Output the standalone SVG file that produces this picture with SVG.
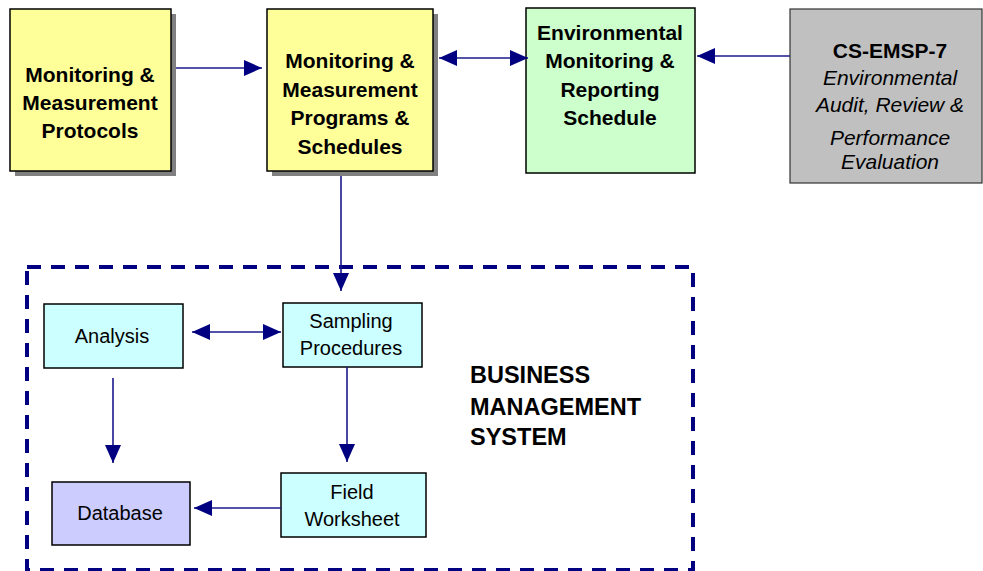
<svg xmlns="http://www.w3.org/2000/svg" width="983" height="571" viewBox="0 0 983 571">
  <style>
    .box { stroke: #000; stroke-width: 1.5; }
    .shadow { fill: #808080; }
    .yellow { fill: #ffff99; }
    .green { fill: #ccffcc; }
    .grey { fill: #c0c0c0; stroke: #333; stroke-width: 1.2; }
    .cyan { fill: #ccffff; }
    .lilac { fill: #ccccff; }
    .t { font-family: "Liberation Sans", Arial, sans-serif; fill: #000; text-anchor: middle; }
    .b21 { font-size: 21px; font-weight: bold; }
    .i21 { font-size: 21px; font-style: italic; }
    .r20 { font-size: 20px; }
    .bms { font-family: "Liberation Sans", Arial, sans-serif; font-size: 23.5px; font-weight: bold; fill: #000; }
    .conn { stroke: #1a1a8c; stroke-width: 1.6; fill: none; }
    .frame { fill: none; stroke: #000080; stroke-width: 4; stroke-dasharray: 14 10; }
  </style>
  <defs>
    <marker id="head" viewBox="0 0 18 16" refX="18" refY="8" markerWidth="18" markerHeight="16" markerUnits="userSpaceOnUse" orient="auto-start-reverse">
      <path d="M0,0 L18,8 L0,16 Z" fill="#000080"/>
    </marker>
    <clipPath id="clip1">
      <rect x="11" y="9" width="160" height="145"/>
    </clipPath>
  </defs>

  <!-- business management system frame -->
  <rect class="frame" x="27" y="267" width="666" height="303"/>

  <g id="protocols">
    <rect class="shadow" x="15" y="14" width="161" height="162"/>
    <rect class="box yellow" x="10" y="9" width="161" height="162"/>
    <g clip-path="url(#clip1)">
      <text class="t b21" x="90" y="82">Monitoring &amp;</text>
      <text class="t b21" x="90" y="110">Measurement</text>
      <text class="t b21" x="90" y="138">Protocols</text>
    </g>
  </g>

  <g id="programs">
    <rect class="shadow" x="272" y="14" width="166" height="162"/>
    <rect class="box yellow" x="267" y="9" width="166" height="162"/>
    <text class="t b21" x="350" y="68">Monitoring &amp;</text>
    <text class="t b21" x="350" y="97">Measurement</text>
    <text class="t b21" x="350" y="125">Programs &amp;</text>
    <text class="t b21" x="350" y="154">Schedules</text>
  </g>

  <g id="reporting">
    <rect class="box green" x="526" y="8" width="169" height="165"/>
    <text class="t b21" x="610" y="40">Environmental</text>
    <text class="t b21" x="610" y="68">Monitoring &amp;</text>
    <text class="t b21" x="610" y="97">Reporting</text>
    <text class="t b21" x="610" y="125">Schedule</text>
  </g>

  <g id="audit">
    <rect class="grey" x="790" y="9" width="192" height="174"/>
    <text class="t b21" x="890" y="58">CS-EMSP-7</text>
    <text class="t i21" x="890" y="85">Environmental</text>
    <text class="t i21" x="890" y="112">Audit, Review &amp;</text>
    <text class="t i21" x="890" y="145">Performance</text>
    <text class="t i21" x="890" y="169">Evaluation</text>
  </g>

  <g id="analysis">
    <rect class="box cyan" x="44" y="304" width="139" height="64"/>
    <text class="t r20" x="112" y="343">Analysis</text>
  </g>

  <g id="sampling">
    <rect class="box cyan" x="283" y="303" width="139" height="64"/>
    <text class="t r20" x="351" y="328">Sampling</text>
    <text class="t r20" x="351" y="355">Procedures</text>
  </g>

  <g id="worksheet">
    <rect class="box cyan" x="281" y="473" width="145" height="64"/>
    <text class="t r20" x="352" y="499">Field</text>
    <text class="t r20" x="352" y="526">Worksheet</text>
  </g>

  <g id="database">
    <rect class="box lilac" x="52" y="482" width="138" height="63"/>
    <text class="t r20" x="120" y="520">Database</text>
  </g>

  <text class="bms" x="470" y="383">BUSINESS</text>
  <text class="bms" x="470" y="415">MANAGEMENT</text>
  <text class="bms" x="470" y="445">SYSTEM</text>

  <g id="connectors">
    <line class="conn" x1="176" y1="68" x2="262" y2="68" marker-end="url(#head)"/>
    <line class="conn" x1="439" y1="58" x2="528" y2="58" marker-start="url(#head)" marker-end="url(#head)"/>
    <line class="conn" x1="790" y1="56" x2="697" y2="56" marker-end="url(#head)"/>
    <line class="conn" x1="341" y1="176" x2="341" y2="291" marker-end="url(#head)"/>
    <line class="conn" x1="192" y1="332" x2="281" y2="332" marker-start="url(#head)" marker-end="url(#head)"/>
    <line class="conn" x1="113" y1="378" x2="113" y2="463" marker-end="url(#head)"/>
    <line class="conn" x1="347" y1="367" x2="347" y2="462" marker-end="url(#head)"/>
    <line class="conn" x1="281" y1="508" x2="194" y2="508" marker-end="url(#head)"/>
  </g>
</svg>
